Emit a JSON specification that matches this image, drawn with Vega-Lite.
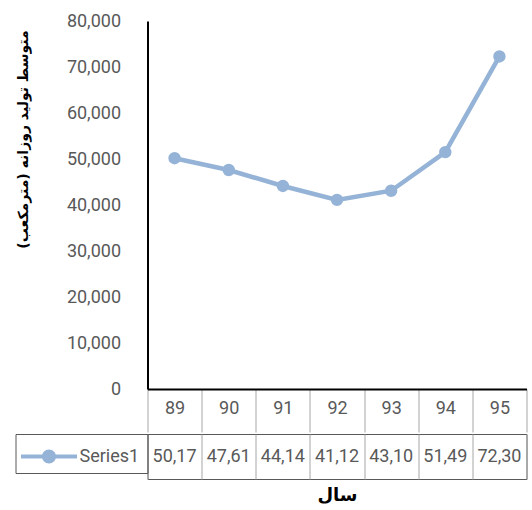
{
  "$schema": "https://vega.github.io/schema/vega-lite/v6.json",
  "padding": {"left": 14.5, "top": 12, "right": 0, "bottom": 0},
  "spacing": 0,
  "background": "white",
  "resolve": {"legend": {"color": "independent"}, "scale": {"color": "independent"}},
  "data": {"values": [
    {"year": "89", "value": 50170},
    {"year": "90", "value": 47610},
    {"year": "91", "value": 44140},
    {"year": "92", "value": 41120},
    {"year": "93", "value": 43100},
    {"year": "94", "value": 51490},
    {"year": "95", "value": 72300}
  ]},
  "vconcat": [
    {
      "width": 379,
      "height": 368,
      "view": {"stroke": null},
      "encoding": {
        "x": {
          "field": "year", "type": "ordinal",
          "scale": {"type": "band", "paddingInner": 0, "paddingOuter": 0},
          "axis": {
            "title": null, "labelAngle": 0,
            "domainColor": "black", "domainWidth": 2,
            "tickBand": "extent", "tickSize": 43, "tickColor": "#A6A6A6", "tickWidth": 1,
            "labelFont": "Roboto", "labelFontSize": 18, "labelColor": "#595959",
            "labelBaseline": "middle", "labelPadding": -24
          }
        },
        "y": {
          "field": "value", "type": "quantitative",
          "scale": {"domain": [0, 80000]},
          "axis": {
            "title": "متوسط تولید روزانه (مترمکعب)",
            "values": [0, 10000, 20000, 30000, 40000, 50000, 60000, 70000, 80000],
            "format": ",.0f", "grid": false, "ticks": false,
            "domainColor": "black", "domainWidth": 2,
            "labelFont": "Roboto", "labelFontSize": 18, "labelColor": "#595959", "labelPadding": 27,
            "titleFont": "DejaVu Sans", "titleFontSize": 14, "titleFontWeight": "bold", "titleColor": "black",
            "titlePadding": 35.5, "titleY": 118
          }
        }
      },
      "layer": [
        {"mark": {"type": "line", "color": "#95B3D7", "strokeWidth": 4.5}},
        {"mark": {"type": "circle", "color": "#95B3D7", "opacity": 1, "size": 154}}
      ]
    },
    {
      "width": 379,
      "height": 45,
      "view": {"stroke": "#595959"},
      "encoding": {
        "x": {
          "field": "year", "type": "ordinal",
          "scale": {"type": "band", "paddingInner": 0, "paddingOuter": 0},
          "axis": {
            "title": "سال", "titleFont": "DejaVu Sans", "titleFontSize": 18, "titleFontWeight": "bold", "titleColor": "black",
            "titlePadding": 7,
            "labels": false, "ticks": false, "domain": false,
            "grid": true, "tickBand": "extent", "gridColor": "#A6A6A6", "gridWidth": 1, "gridOpacity": 1
          }
        }
      },
      "layer": [
        {
          "mark": {"type": "text", "font": "Roboto", "fontSize": 18, "color": "#595959", "limit": 50, "ellipsis": "\u200b", "baseline": "middle"},
          "encoding": {"text": {"field": "value", "type": "quantitative", "format": ",.0f"}}
        },
        {
          "mark": {"type": "circle", "opacity": 0},
          "encoding": {
            "color": {
              "datum": "Series1",
              "scale": {"range": ["#95B3D7"]},
              "legend": {
                "title": null, "orient": "left", "offset": 0, "padding": 7.5,
                "strokeColor": "#595959",
                "symbolType": "M-1.8667,-0.1333H1.8667V0.1333H-1.8667Z M0.4667,0A0.4667,0.4667,0,1,1,-0.4667,0A0.4667,0.4667,0,1,1,0.4667,0Z",
                "symbolSize": 900, "symbolOffset": 11, "symbolStrokeWidth": 0, "symbolOpacity": 1,
                "symbolFillColor": "#95B3D7",
                "labelOffset": 15.5, "labelFont": "Roboto", "labelFontSize": 18, "labelColor": "#595959"
              }
            }
          }
        }
      ]
    }
  ]
}
